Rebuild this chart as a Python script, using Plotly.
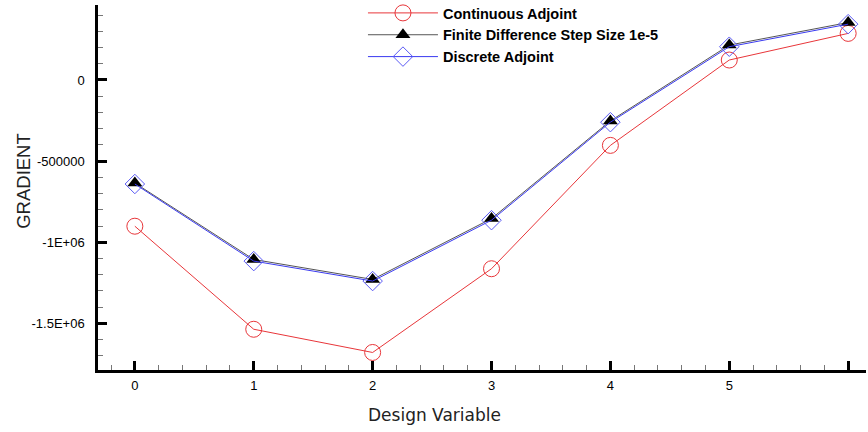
import plotly.graph_objects as go

design_vars = [0, 1, 2, 3, 4, 5, 6]
continuous_adjoint = [-901000, -1536000, -1679000, -1163000, -403000, 123000, 287000]
finite_difference = [-635000, -1106000, -1229000, -854000, -252000, 215000, 354000]
discrete_adjoint = [-641000, -1116000, -1239000, -864000, -260000, 205000, 344000]

x_tickvals = [0, 1, 2, 3, 4, 5, 6]
x_ticktext = ["0", "1", "2", "3", "4", "5", ""]
y_tickvals = [0, -500000, -1000000, -1500000]
y_ticktext = ["0", "-500000", "-1E+06", "-1.5E+06"]

fig = go.Figure()
fig.add_trace(go.Scatter(
    x=design_vars, y=continuous_adjoint, mode="lines+markers",
    name="Continuous Adjoint",
    line=dict(color="#e8363a", width=1),
    marker=dict(symbol="circle-open", size=16, color="#e8363a", line=dict(width=1))))
fig.add_trace(go.Scatter(
    x=design_vars, y=finite_difference, mode="lines+markers",
    name="Finite Difference Step Size 1e-5",
    line=dict(color="#555555", width=1),
    marker=dict(symbol="triangle-up", size=13, color="black")))
fig.add_trace(go.Scatter(
    x=design_vars, y=discrete_adjoint, mode="lines+markers",
    name="Discrete Adjoint",
    line=dict(color="#3a3af0", width=1),
    marker=dict(symbol="diamond-open", size=15, color="#5a5af5", line=dict(width=1))))

axis_font = dict(family="Liberation Sans, Arial", size=13, color="black")
fig.update_layout(
    width=868, height=432,
    margin=dict(l=98, r=2, t=5, b=62, autoexpand=False),
    paper_bgcolor="white", plot_bgcolor="white",
    showlegend=True,
    legend=dict(x=0.345, y=1.022, xanchor="left", yanchor="top",
                bgcolor="rgba(0,0,0,0)", itemwidth=70, tracegroupgap=0,
                font=dict(family="Liberation Sans, Arial", size=14.5, color="black", weight="bold")),
    xaxis=dict(range=[-0.31, 6.15], tickvals=x_tickvals, ticktext=x_ticktext,
               showgrid=False, zeroline=False, showline=True, linecolor="black", linewidth=2.5,
               ticks="inside", ticklen=9, tickwidth=2.5, tickcolor="black",
               minor=dict(dtick=0.2, ticks="inside", ticklen=5, tickwidth=1, tickcolor="#777"),
               tickfont=axis_font, ticklabelstandoff=2),
    yaxis=dict(range=[-1787000, 462000], tickvals=y_tickvals, ticktext=y_ticktext,
               showgrid=False, zeroline=False, showline=True, linecolor="black", linewidth=2.5,
               ticks="inside", ticklen=9, tickwidth=2.5, tickcolor="black",
               minor=dict(dtick=100000, ticks="inside", ticklen=5, tickwidth=1, tickcolor="#777"),
               tickfont=axis_font, ticklabelstandoff=8),
    annotations=[
        dict(text="Design Variable", xref="paper", yref="paper", x=(434 - 98) / 766, y=-(415 - 370) / 365,
             xanchor="center", yanchor="middle", showarrow=False,
             font=dict(family="DejaVu Sans", size=17, color="#222")),
        dict(text="GRADIENT", xref="paper", yref="paper", x=-(98 - 23) / 766, y=(370 - 181) / 365,
             xanchor="center", yanchor="middle", showarrow=False, textangle=-90,
             font=dict(family="Liberation Sans, Arial", size=18.5, color="#222")),
    ],
)
fig.write_html("out.html")
